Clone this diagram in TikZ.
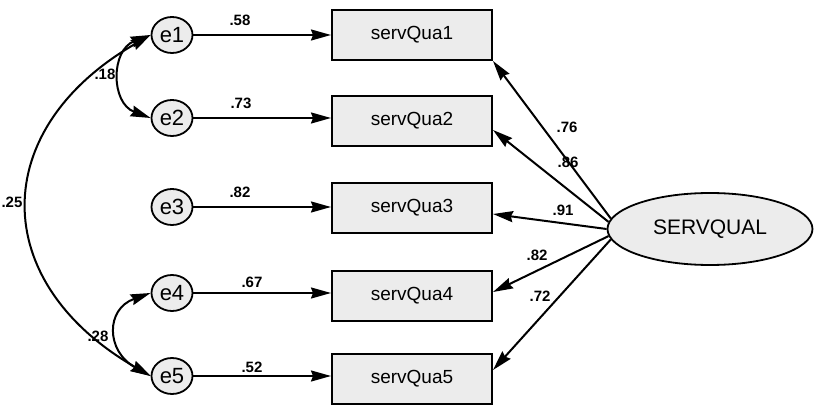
\documentclass[tikz,border=0pt]{standalone}
\usepackage{fontspec}
\setmainfont{Liberation Sans}
\usetikzlibrary{shapes.geometric,arrows.meta}
\begin{document}
\begin{tikzpicture}[x=1pt,y=1pt,
 err/.style={ellipse,draw,line width=1.8pt,fill=gray!15,minimum width=41pt,minimum height=36pt,inner sep=0pt,font=\fontsize{22}{24}\selectfont},
 obs/.style={rectangle,draw,line width=2pt,fill=gray!15,minimum width=160pt,minimum height=50pt,inner sep=0pt,font=\fontsize{19}{21}\selectfont},
 lat/.style={ellipse,draw,line width=1.8pt,fill=gray!15,minimum width=205pt,minimum height=72pt,inner sep=0pt,font=\fontsize{21}{23}\selectfont},
 lbl/.style={font=\bfseries\fontsize{15}{16}\selectfont,inner sep=0pt},
 arr/.style={line width=2pt,-{Stealth[length=20pt,width=11pt,inset=2pt]}},
 cov/.style={line width=2pt,{Stealth[length=20pt,width=11pt,inset=2pt]}-{Stealth[length=20pt,width=11pt,inset=2pt]}}
]
\useasboundingbox (0,0) rectangle (816,407);
% error terms
\node[err] (e1) at (172,372) {e1};
\node[err] (e2) at (172,289) {e2};
\node[err] (e3) at (172,200) {e3};
\node[err] (e4) at (172,114) {e4};
\node[err] (e5) at (172,31) {e5};
% observed
\node[obs] (sq1) at (412,372) {servQua1};
\node[obs] (sq2) at (412,286) {servQua2};
\node[obs] (sq3) at (412,199) {servQua3};
\node[obs] (sq4) at (412,111) {servQua4};
\node[obs] (sq5) at (412,28) {servQua5};
% latent
\node[lat] (sv) at (710,178) {SERVQUAL};
% error paths
\draw[arr] (e1) -- (e1 -| sq1.west);
\draw[arr] (e2) -- (e2 -| sq2.west);
\draw[arr] (e3) -- (e3 -| sq3.west);
\draw[arr] (e4) -- (e4 -| sq4.west);
\draw[arr] (e5) -- (e5 -| sq5.west);
\node[lbl] (p1) at (240,387) {.58};
\node[lbl] (p2) at (241,304) {.73};
\node[lbl] (p3) at (240,215) {.82};
\node[lbl] (p4) at (252,125) {.67};
\node[lbl] (p5) at (252,40) {.52};
% loadings
\draw[arr] (sv.174) -- (sq1.south east);
\draw[arr] (sv.176) -- ([yshift=-9pt]sq2.east);
\draw[arr] (sv.180) -- ([yshift=-6pt]sq3.east);
\draw[arr] (sv.184) -- ([yshift=4pt]sq4.east);
\draw[arr] (sv.186) -- ([yshift=9pt]sq5.east);
\node[lbl] (l1) at (567,280) {.76};
\node[lbl] (l2) at (568,245) {.86};
\node[lbl] (l3) at (563,197) {.91};
\node[lbl] (l4) at (537,152) {.82};
\node[lbl] (l5) at (540,111) {.72};
% covariances
\draw[cov] (e1.west) .. controls +(-40,-15) and +(-40,15) .. (e2.west);
\draw[cov] (e1.west) .. controls +(-163,-94) and +(-163,94) .. (e5.west);
\draw[cov] (e4.west) .. controls +(-45,-16) and +(-45,25) .. (e5.west);
\node[lbl] (c1) at (105,333) {.18};
\node[lbl] (c2) at (12,205) {.25};
\node[lbl] (c3) at (98,71) {.28};
\end{tikzpicture}
\end{document}
